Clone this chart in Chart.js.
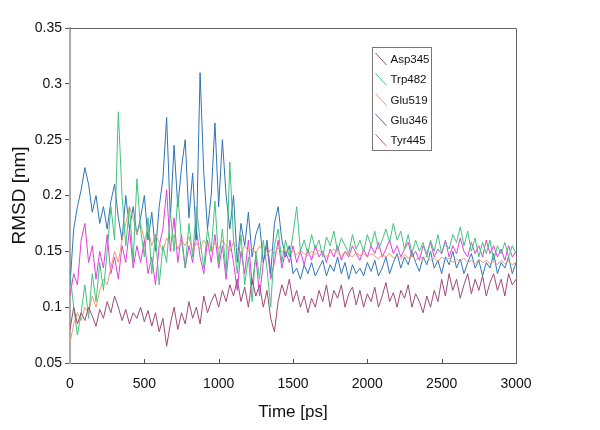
<!DOCTYPE html>
<html>
<head>
<meta charset="utf-8">
<script src="https://cdn.jsdelivr.net/npm/chart.js@4.4.1/dist/chart.umd.min.js"></script>
<style>
  html, body { margin: 0; padding: 0; background: #fff; }
  #wrap { width: 600px; height: 430px; }
</style>
</head>
<body>
<div id="wrap"><canvas id="myChart" width="600" height="430"></canvas></div>
<script>
// time axis, ps
var times = [
    0, 25, 50, 75, 100, 125, 150, 175, 200, 225,
    250, 275, 300, 325, 350, 375, 400, 425, 450, 475,
    500, 525, 550, 575, 600, 625, 650, 675, 700, 725,
    750, 775, 800, 825, 850, 875, 900, 925, 950, 975,
    1000, 1025, 1050, 1075, 1100, 1125, 1150, 1175, 1200, 1225,
    1250, 1275, 1300, 1325, 1350, 1375, 1400, 1425, 1450, 1475,
    1500, 1525, 1550, 1575, 1600, 1625, 1650, 1675, 1700, 1725,
    1750, 1775, 1800, 1825, 1850, 1875, 1900, 1925, 1950, 1975,
    2000, 2025, 2050, 2075, 2100, 2125, 2150, 2175, 2200, 2225,
    2250, 2275, 2300, 2325, 2350, 2375, 2400, 2425, 2450, 2475,
    2500, 2525, 2550, 2575, 2600, 2625, 2650, 2675, 2700, 2725,
    2750, 2775, 2800, 2825, 2850, 2875, 2900, 2925, 2950, 2975,
    3000
];

var asp345 = [
    0.08, 0.1, 0.085, 0.095, 0.088, 0.1, 0.092, 0.083, 0.098, 0.09,
    0.105, 0.095, 0.11, 0.1, 0.088, 0.098, 0.085, 0.095, 0.09, 0.1,
    0.087, 0.097, 0.083, 0.095, 0.078, 0.09, 0.065, 0.085, 0.1, 0.08,
    0.095, 0.085, 0.105, 0.09, 0.1, 0.085, 0.11, 0.095, 0.105, 0.112,
    0.1, 0.115, 0.105, 0.12, 0.11, 0.125, 0.105, 0.118, 0.1, 0.125,
    0.11, 0.12, 0.1, 0.115, 0.09, 0.078, 0.105, 0.12, 0.11, 0.125,
    0.105, 0.115, 0.1, 0.11, 0.095, 0.108, 0.1, 0.115, 0.105, 0.12,
    0.1, 0.115, 0.108, 0.12, 0.1, 0.112, 0.118, 0.102, 0.115, 0.1,
    0.112, 0.105, 0.118, 0.1, 0.11, 0.122, 0.105, 0.113, 0.1, 0.115,
    0.108, 0.12, 0.1, 0.112, 0.105, 0.095, 0.11, 0.1, 0.115, 0.105,
    0.125, 0.11, 0.13, 0.115, 0.125, 0.108, 0.12, 0.13, 0.112, 0.125,
    0.115, 0.128, 0.11, 0.122, 0.13, 0.115, 0.125, 0.11, 0.13, 0.12,
    0.125
];

var trp482 = [
    0.13, 0.1, 0.075, 0.095, 0.12, 0.09, 0.13, 0.105, 0.14, 0.115,
    0.15, 0.19, 0.16, 0.275, 0.2, 0.155, 0.19, 0.14, 0.215, 0.17,
    0.145, 0.18, 0.13, 0.165, 0.12, 0.155, 0.14, 0.185, 0.15, 0.2,
    0.16, 0.135, 0.175, 0.145, 0.19, 0.16, 0.135, 0.17, 0.15, 0.195,
    0.14, 0.17, 0.13, 0.23, 0.16, 0.13, 0.165, 0.12, 0.145, 0.105,
    0.15, 0.125, 0.16, 0.135, 0.1, 0.155, 0.17, 0.14, 0.16, 0.145,
    0.165, 0.19, 0.15, 0.16, 0.148, 0.165, 0.152, 0.16, 0.145, 0.163,
    0.155, 0.168, 0.15, 0.162, 0.155, 0.148, 0.165, 0.152, 0.16, 0.15,
    0.165, 0.155, 0.168, 0.152, 0.16, 0.17, 0.158, 0.175, 0.16, 0.168,
    0.152, 0.165, 0.148, 0.16, 0.15, 0.158, 0.145, 0.16, 0.15, 0.165,
    0.148, 0.158, 0.152, 0.165, 0.158, 0.172, 0.155, 0.168, 0.15, 0.162,
    0.145, 0.158, 0.148, 0.16, 0.142, 0.155, 0.148, 0.158, 0.145, 0.155,
    0.148
];

var glu519 = [
    0.068, 0.085, 0.095, 0.088, 0.1, 0.095, 0.11, 0.1, 0.115, 0.125,
    0.12, 0.135, 0.15, 0.14, 0.16, 0.175, 0.19, 0.18, 0.165, 0.175,
    0.16, 0.17, 0.155, 0.165, 0.158, 0.15, 0.162, 0.155, 0.165, 0.152,
    0.16, 0.155, 0.163, 0.15, 0.158, 0.152, 0.16, 0.155, 0.15, 0.158,
    0.152, 0.16, 0.155, 0.15, 0.158, 0.152, 0.148, 0.155, 0.15, 0.153,
    0.148, 0.155, 0.15, 0.146, 0.152, 0.148, 0.153, 0.149, 0.152, 0.147,
    0.15, 0.147, 0.151, 0.148, 0.146, 0.15, 0.147, 0.151, 0.148, 0.145,
    0.149, 0.152, 0.148, 0.146, 0.15, 0.147, 0.145, 0.149, 0.146, 0.148,
    0.145, 0.148, 0.146, 0.143, 0.147, 0.145, 0.148, 0.144, 0.146, 0.143,
    0.147, 0.144, 0.146, 0.142, 0.145, 0.143, 0.146, 0.142, 0.144, 0.141,
    0.145, 0.142, 0.144, 0.14, 0.143, 0.141, 0.144, 0.14, 0.142, 0.139,
    0.143, 0.14, 0.142, 0.139, 0.141, 0.138, 0.142, 0.139, 0.141, 0.138,
    0.14
];

var glu346 = [
    0.12, 0.17, 0.19, 0.205, 0.225, 0.21, 0.185, 0.2, 0.175, 0.19,
    0.17, 0.195, 0.21, 0.18, 0.16, 0.2, 0.17, 0.19, 0.165, 0.18,
    0.2, 0.16, 0.185, 0.15, 0.19, 0.215, 0.27, 0.18, 0.245, 0.19,
    0.225, 0.25, 0.18, 0.22, 0.16, 0.31, 0.22, 0.17, 0.2, 0.265,
    0.19, 0.25, 0.2, 0.17, 0.2, 0.14, 0.175, 0.155, 0.185, 0.145,
    0.165, 0.175, 0.14, 0.16, 0.13, 0.175, 0.19, 0.16, 0.145, 0.155,
    0.13, 0.135, 0.125, 0.138, 0.13, 0.14, 0.128, 0.135, 0.142, 0.128,
    0.138, 0.132, 0.145, 0.13, 0.14, 0.125, 0.138, 0.13, 0.135, 0.128,
    0.14, 0.132, 0.142, 0.128, 0.135, 0.145, 0.13, 0.14, 0.148, 0.135,
    0.145, 0.138, 0.15, 0.14, 0.132, 0.145, 0.138, 0.15, 0.135, 0.142,
    0.13, 0.145, 0.138, 0.15, 0.135, 0.143, 0.13, 0.14, 0.148, 0.135,
    0.142, 0.128, 0.14, 0.135, 0.148, 0.13, 0.14, 0.135, 0.145, 0.13,
    0.14
];

var tyr445 = [
    0.11, 0.13, 0.12, 0.16, 0.175, 0.14, 0.155, 0.125, 0.15, 0.135,
    0.165, 0.13, 0.145, 0.125, 0.155, 0.14, 0.17, 0.135, 0.155, 0.14,
    0.16, 0.13, 0.145, 0.12, 0.155, 0.17, 0.205, 0.15, 0.18, 0.14,
    0.165, 0.135, 0.155, 0.14, 0.17, 0.145, 0.13, 0.16, 0.14, 0.165,
    0.135, 0.155, 0.125, 0.16, 0.14, 0.115, 0.15, 0.13, 0.16, 0.12,
    0.145, 0.11, 0.14, 0.155, 0.125, 0.14, 0.16, 0.135, 0.15, 0.14,
    0.155, 0.14, 0.15, 0.138, 0.152, 0.142, 0.155, 0.145, 0.15, 0.14,
    0.152, 0.145, 0.155, 0.142, 0.15, 0.145, 0.155, 0.148, 0.142, 0.152,
    0.145, 0.155, 0.148, 0.158, 0.145, 0.152, 0.16, 0.148, 0.155, 0.145,
    0.152, 0.158, 0.145, 0.15, 0.142, 0.155, 0.148, 0.158, 0.145, 0.152,
    0.148, 0.16, 0.145, 0.155, 0.148, 0.162, 0.15, 0.145, 0.158, 0.148,
    0.155, 0.145, 0.16, 0.148, 0.155, 0.145, 0.152, 0.142, 0.155, 0.145,
    0.15
];

var labels = ['Asp345', 'Trp482', 'Glu519', 'Glu346', 'Tyr445'];
var series = [asp345, trp482, glu519, glu346, tyr445];
var colors = ['#9c4a78', '#43c27f', '#ef9c74', '#2f74b5', '#dd3fdc'];

var xTicks = [0, 500, 1000, 1500, 2000, 2500, 3000];
var yTicks = [0.05, 0.1, 0.15, 0.2, 0.25, 0.3, 0.35];

var fontName = "'Liberation Sans', Arial, sans-serif";

function toPoints(values) {
    var pts = [];
    for (var i = 0; i < values.length; i++) {
        pts.push({ x: times[i], y: values[i] });
    }
    return pts;
}

// frame on top/right, inside ticks on the x axis, and the boxed legend
var framePlugin = {
    id: 'frame',
    afterDraw: function(chart) {
        var ctx = chart.ctx;
        var a = chart.chartArea;
        var xs = chart.scales.x;
        ctx.save();
        ctx.strokeStyle = '#666';
        ctx.lineWidth = 1;
        ctx.beginPath();
        ctx.moveTo(a.left, a.top + 0.5);
        ctx.lineTo(a.right + 0.5, a.top + 0.5);
        ctx.lineTo(a.right + 0.5, a.bottom);
        ctx.stroke();

        ctx.strokeStyle = '#555';
        ctx.beginPath();
        for (var i = 1; i < xTicks.length - 1; i++) {
            var px = Math.round(xs.getPixelForValue(xTicks[i])) + 0.5;
            ctx.moveTo(px, a.bottom);
            ctx.lineTo(px, a.bottom - 4);
        }
        ctx.stroke();

        // legend
        var bx = 372.5, by = 47.5, bw = 59, bh = 103;
        ctx.fillStyle = '#fff';
        ctx.fillRect(bx, by, bw, bh);
        ctx.strokeStyle = '#777';
        ctx.strokeRect(bx, by, bw, bh);
        ctx.font = '11.5px ' + fontName;
        ctx.textBaseline = 'middle';
        ctx.textAlign = 'left';
        for (var j = 0; j < labels.length; j++) {
            var cy = by + 11.5 + j * 20.3;
            ctx.strokeStyle = colors[j];
            ctx.beginPath();
            ctx.moveTo(bx + 3, cy - 6);
            ctx.lineTo(bx + 14, cy + 6);
            ctx.stroke();
            ctx.fillStyle = '#111';
            ctx.fillText(labels[j], bx + 18, cy + 1);
        }
        ctx.restore();
    }
};

var datasets = [];
for (var k = 0; k < series.length; k++) {
    datasets.push({
        label: labels[k],
        data: toPoints(series[k]),
        borderColor: colors[k],
        borderWidth: 1,
        pointRadius: 0,
        tension: 0,
        fill: false
    });
}

var ctx = document.getElementById('myChart').getContext('2d');
var myChart = new Chart(ctx, {
    type: 'line',
    data: { datasets: datasets },
    options: {
        responsive: false,
        animation: false,
        layout: { padding: { top: 28, right: 84, left: 0, bottom: 7 } },
        plugins: {
            legend: { display: false },
            tooltip: { enabled: false }
        },
        scales: {
            x: {
                type: 'linear',
                min: 0,
                max: 3000,
                afterBuildTicks: function(scale) {
                    scale.ticks = xTicks.map(function(v) { return { value: v }; });
                },
                afterFit: function(scale) { scale.height = 60; },
                grid: { display: false },
                border: { display: true, color: '#555', width: 1 },
                ticks: {
                    color: '#111',
                    padding: 5,
                    maxRotation: 0,
                    font: { family: fontName, size: 14 },
                    callback: function(v) { return String(v); }
                },
                title: {
                    display: true,
                    text: 'Time [ps]',
                    color: '#111',
                    padding: { top: 0, bottom: 0 },
                    font: { family: fontName, size: 17 }
                }
            },
            y: {
                type: 'linear',
                min: 0.05,
                max: 0.35,
                afterBuildTicks: function(scale) {
                    scale.ticks = yTicks.map(function(v) { return { value: v }; });
                },
                afterFit: function(scale) { scale.width = 70; },
                grid: {
                    display: true,
                    drawOnChartArea: false,
                    drawTicks: true,
                    tickLength: 5,
                    color: '#555'
                },
                border: { display: true, color: '#aaa', width: 2 },
                ticks: {
                    color: '#111',
                    padding: 3,
                    font: { family: fontName, size: 14 },
                    callback: function(v) { return String(parseFloat(v.toFixed(2))); }
                },
                title: {
                    display: true,
                    text: 'RMSD [nm]',
                    color: '#111',
                    padding: { top: 8, bottom: 4 },
                    font: { family: fontName, size: 19 }
                }
            }
        }
    },
    plugins: [framePlugin]
});
</script>
</body>
</html>
